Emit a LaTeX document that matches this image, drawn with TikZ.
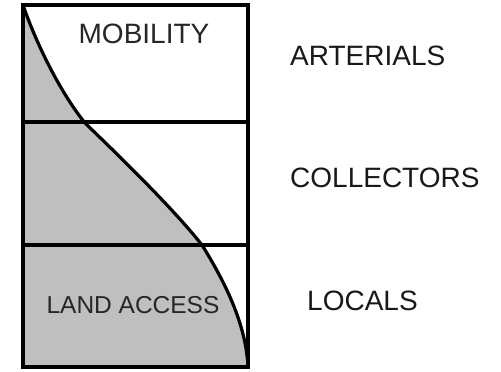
\documentclass[tikz,border=0pt]{standalone}
\usepackage{fontspec}
\setmainfont{Liberation Sans}
\usepackage{tikz}

\begin{document}
\begin{tikzpicture}[x=1pt, y=-1pt,
				band/.style = {draw, line width = 3.2pt},
				curve/.style = {draw, line width = 3.2pt},
				inlabel/.style = {anchor = base, inner sep = 0pt,
				font = \fontsize{28}{30}\selectfont, text = black!85},
				sidelabel/.style = {anchor = base west, inner sep = 0pt,
				font = \fontsize{28}{30}\selectfont, text = black!90}]

				\useasboundingbox (0,0) rectangle (501,372);

				\coordinate (tl) at (23,5);
				\coordinate (br) at (248,367);
				\coordinate (bl) at (23,367);
				\coordinate (c_1) at (85,123);
				\coordinate (c_2) at (202,245);

				% shaded part under the curve
				\fill [gray!50] (tl) .. controls (36,43) and (60,92) .. (c_1)
				.. controls (115,152) and (172,207) .. (c_2)
				.. controls (225,282) and (246,324) .. (br) -- (bl) -- cycle;

				% the three bands
				\draw [band] (tl) rectangle (br);
				\draw [band] (23,122) -- (248,122);
				\draw [band] (23,245) -- (248,245);

				\draw [curve] (tl) .. controls (36,43) and (60,92) .. (c_1)
				.. controls (115,152) and (172,207) .. (c_2)
				.. controls (225,282) and (246,324) .. (br);

				\node [inlabel] (mob) at (144,43) {MOBILITY};
				\node [inlabel, font = \fontsize{24.5}{27}\selectfont]
				(land) at (133,313) {LAND ACCESS};

				\node [sidelabel] (art) at (290,65) {ARTERIALS};
				\node [sidelabel] (col) at (290,187) {COLLECTORS};
				\node [sidelabel] (loc) at (307,310) {LOCALS};
\end{tikzpicture}
\end{document}
